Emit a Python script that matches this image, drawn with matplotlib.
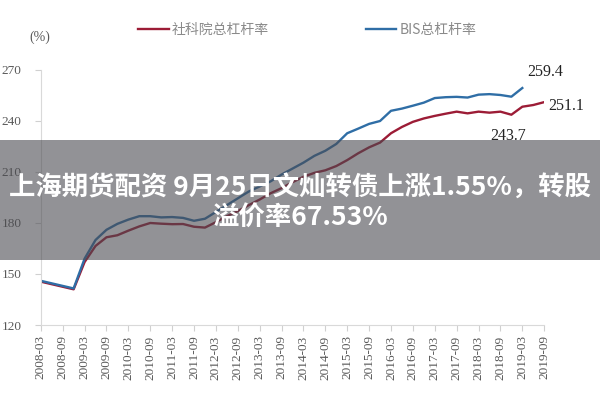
import numpy as np
import matplotlib
matplotlib.use('Agg')
import matplotlib.pyplot as plt
from matplotlib.patches import Rectangle

plt.rcParams['font.family'] = ['Liberation Serif', 'Noto Sans CJK SC']

# quarterly data, 2008-03 .. 2019-09
bis_rate = [146, 144.5, 143, 141.5, 159, 170, 176, 179.5, 182, 184, 184, 183.3,
            183.5, 183, 181.3, 182.5, 186.5, 190.5, 194.5, 198.5, 201.5, 204.5,
            208.5, 212, 215.5, 219.5, 222.5, 226.5, 232.8, 235.5, 238.3, 240,
            246, 247.3, 249, 250.8, 253.5, 254, 254.2, 253.8, 255.5, 255.8,
            255.3, 254.3, 259.4]
cass_rate = [145.5, 144, 142.5, 141, 157, 166.5, 171.6, 172.8, 175.5, 178, 180,
             179.6, 179.3, 179.4, 177.8, 177.3, 180.5, 184, 187, 190.5, 193.8,
             197.5, 200.5, 204, 207.2, 209.5, 211, 213.5, 217, 221, 224.5, 227.3,
             232.8, 236.5, 239.5, 241.5, 243, 244.3, 245.5, 244.5, 245.5, 244.9,
             245.5, 243.7, 248.4, 249.4, 251.1]
tick_labels = ['%d-%s' % (y, m) for y in range(2008, 2020) for m in ('03', '09')]
yticks = [120, 150, 180, 210, 240, 270]

red = '#9c1c36'
blue = '#2f6ea6'
grey = '#595959'

fig = plt.figure(figsize=(6, 4), dpi=100)
ax = fig.add_axes([0.068, 0.1875, 0.839, 0.6375])

ax.plot(np.arange(len(cass_rate)), cass_rate, color=red, lw=1.7, label='社科院总杠杆率')
ax.plot(np.arange(len(bis_rate)), bis_rate, color=blue, lw=1.7, label='BIS总杠杆率')

ax.set_xlim(0, 46)
ax.set_ylim(120, 270)
ax.set_yticks(yticks)
ax.set_xticks(np.arange(len(tick_labels)) * 2)
ax.set_xticklabels(tick_labels, rotation=90)
ax.tick_params(axis='both', colors='#d0d0d0', labelcolor=grey, labelsize=9.5, length=4, width=0.8)
ax.tick_params(axis='y', pad=10)
for s in ['top', 'right']:
    ax.spines[s].set_visible(False)
for s in ['left', 'bottom']:
    ax.spines[s].set_color('#d9d9d9')

# annotations
ax.annotate('259.4', xy=(44, bis_rate[-1]), xytext=(16.5, 11.5), textcoords='offset points',
            ha='center', va='center', fontsize=11.5, color='#222222', annotation_clip=False)
ax.annotate('251.1', xy=(46, cass_rate[-1]), xytext=(16, -3), textcoords='offset points',
            ha='center', va='center', fontsize=11.5, color='#222222', annotation_clip=False)
ax.annotate('243.7', xy=(43, cass_rate[43]), xytext=(-2, -15), textcoords='offset points',
            ha='center', va='center', fontsize=11.5, color='#222222', annotation_clip=False)

fig.text(0.067, 0.907, '(%)', ha='center', va='center', fontsize=10, color=grey)

leg = fig.legend(loc='center', bbox_to_anchor=(0.512, 0.925), ncol=2, frameon=False,
                 handlelength=2.2, handletextpad=0.2, columnspacing=7.0,
                 prop={'family': ['Noto Sans CJK SC'], 'size': 10, 'weight': 'light'})
for t in leg.get_texts():
    t.set_color('#8a8a8a')

# grey overlay band with caption
fig.patches.append(Rectangle((0, 0.35), 1, 0.3, transform=fig.transFigure,
                             facecolor='#4a4a50', alpha=0.6, edgecolor='none', zorder=5))
fig.text(0.5, 0.53, '上海期货配资 9月25日文灿转债上涨1.55%，转股', ha='center', va='center',
         fontsize=19, fontweight='bold', color='white', family=['Noto Sans CJK SC', 'DejaVu Sans'], zorder=6)
fig.text(0.5, 0.455, '溢价率67.53%', ha='center', va='center',
         fontsize=19, fontweight='bold', color='white', family=['Noto Sans CJK SC', 'DejaVu Sans'], zorder=6)

fig.savefig('out.png', dpi=100)
